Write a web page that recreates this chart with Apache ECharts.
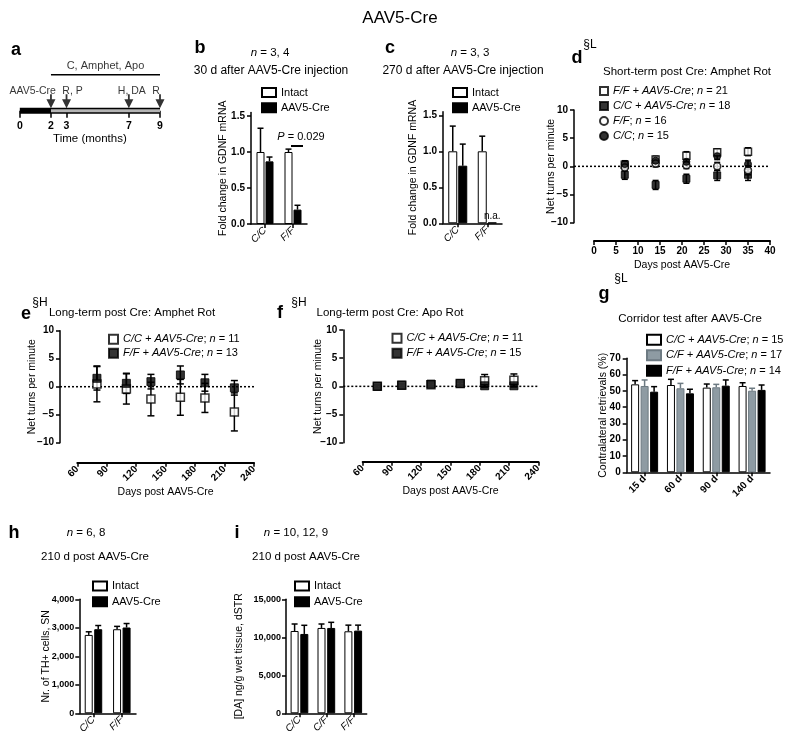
<!DOCTYPE html>
<html><head><meta charset="utf-8">
<script src="https://cdn.jsdelivr.net/npm/echarts@6/dist/echarts.min.js"></script>
<style>html,body{margin:0;padding:0;background:#fff}#c{width:800px;height:745px}</style>
</head><body><div id="c"></div>
<script>
// ---------------- DATA ----------------
// a: timeline (months)
const timelineTicks = [0, 2, 3, 7, 9];
const timelineEvents = [2, 3, 7, 9];
const timelineEventLabels = ['AAV5-Cre', 'R, P', 'H, DA', 'R'];
const preSpan = [0, 2];
const postSpan = [2, 9];
const treatmentSpan = [2, 9];
const treatmentLabel = 'C, Amphet, Apo';

// b, c: GDNF mRNA fold change
const gdnfCats = ['C/C', 'F/F'];
const b_intact = [1.0, 1.0];
const b_intactErr = [0.33, 0.04];
const b_cre = [0.87, 0.20];
const b_creErr = [0.06, 0.06];
const c_intact = [1.0, 1.0];
const c_intactErr = [0.35, 0.21];
const c_cre = [0.80, 0.01];
const c_creErr = [0.30, 0];

// d: short-term amphetamine rotation
const d_days = [7, 14, 21, 28, 35];
const d_ffCre = [0.3, 1.2, 1.9, 2.5, 2.6];
const d_ffCreErr = [0.6, 0.6, 0.7, 0.6, 0.7];
const d_ccCre = [-1.5, -3.3, -2.2, -1.6, -1.5];
const d_ccCreErr = [0.8, 0.8, 0.8, 0.9, 1.0];
const d_ff = [-0.2, 0.5, 0.2, 0.0, -0.7];
const d_ffErr = [0.6, 0.6, 0.6, 0.7, 0.8];
const d_cc = [0.4, 1.0, 0.8, 1.8, 0.4];
const d_ccErr = [0.6, 0.6, 0.6, 0.6, 0.7];

// e: long-term amphetamine rotation
const e_days = [80, 110, 135, 165, 190, 220];
const e_ccCre = [0.5, -0.4, -2.2, -1.9, -2.0, -4.5];
const e_ccCreErr = [3.2, 2.7, 3.0, 3.2, 2.6, 3.4];
const e_ffCre = [1.5, 0.6, 0.9, 2.1, 0.7, -0.2];
const e_ffCreErr = [2.1, 1.8, 1.3, 1.6, 1.5, 1.3];

// f: long-term apomorphine rotation
const f_days = [75, 100, 130, 160, 185, 215];
const f_ccCre = [0.0, 0.2, 0.3, 0.5, 1.0, 1.1];
const f_ccCreErr = [0.3, 0.3, 0.3, 0.3, 1.1, 1.1];
const f_ffCre = [0.0, 0.2, 0.4, 0.5, 0.1, 0.1];
const f_ffCreErr = [0.2, 0.2, 0.2, 0.2, 0.2, 0.2];

// g: corridor test
const g_cats = ['15 d', '60 d', '90 d', '140 d'];
const g_cc = [54.0, 53.6, 52.0, 53.0];
const g_ccErr = [2.3, 3.5, 2.2, 2.0];
const g_cf = [53.0, 51.6, 52.2, 50.1];
const g_cfErr = [3.7, 3.0, 1.8, 1.5];
const g_ff = [49.5, 48.5, 53.2, 50.6];
const g_ffErr = [3.1, 2.5, 3.5, 3.0];

// h: TH+ cells
const h_cats = ['C/C', 'F/F'];
const h_intact = [2750, 2950];
const h_intactErr = [110, 100];
const h_cre = [2950, 3010];
const h_creErr = [130, 140];

// i: DA content
const i_cats = ['C/C', 'C/F', 'F/F'];
const i_intact = [10830, 11230, 10790];
const i_intactErr = [920, 520, 810];
const i_cre = [10440, 11230, 10880];
const i_creErr = [1140, 740, 720];

// ---------------- CHART ----------------
const FONT = '"Liberation Sans", Arial, Helvetica, sans-serif';
const BLACK = '#000';
const GRAY = '#8e9ba3';

function merge(a, b) {
  for (const k in b) {
    if (b[k] && typeof b[k] === 'object' && !Array.isArray(b[k]) && a[k] && typeof a[k] === 'object' && !Array.isArray(a[k])) merge(a[k], b[k]);
    else a[k] = b[k];
  }
  return a;
}
const minus = v => String(v).replace('-', '\u2212');
const thousands = v => v.toLocaleString('en-US');

function baseAxis(gi, extra) {
  return merge({
    gridIndex: gi,
    axisLine: { show: true, onZero: false, lineStyle: { color: BLACK, width: 1.5 } },
    axisTick: { show: true, inside: false, length: 4, lineStyle: { color: BLACK, width: 1.5 } },
    axisLabel: { fontFamily: FONT, fontSize: 10, fontWeight: 'bold', color: BLACK, margin: 6 },
    splitLine: { show: false },
    nameLocation: 'middle',
    nameMoveOverlap: false,
    nameTextStyle: { fontFamily: FONT, fontSize: 10.5, color: BLACK }
  }, extra);
}
function catX(gi, cats, extra) {
  return baseAxis(gi, merge({
    type: 'category', data: cats,
    axisTick: { alignWithLabel: true },
    axisLabel: { rotate: 45, fontStyle: 'italic', fontWeight: 'normal', interval: 0, margin: 5 }
  }, extra || {}));
}

function errSeries(gi, data, offset, capHalf, both, color) {
  return {
    type: 'custom', xAxisIndex: gi, yAxisIndex: gi, z: 4, silent: true,
    renderItem: function (params, api) {
      const e = api.value(2);
      if (!e) return null;
      const x = api.value(0), m = api.value(1);
      const top = api.coord([x, m + e]);
      const bot = api.coord([x, both ? m - e : m]);
      const cx = top[0] + offset;
      const st = { stroke: color, lineWidth: 1.5 };
      const ch = [
        { type: 'line', shape: { x1: cx, y1: bot[1], x2: cx, y2: top[1] }, style: st },
        { type: 'line', shape: { x1: cx - capHalf, y1: top[1], x2: cx + capHalf, y2: top[1] }, style: st }
      ];
      if (both) ch.push({ type: 'line', shape: { x1: cx - capHalf, y1: bot[1], x2: cx + capHalf, y2: bot[1] }, style: st });
      return { type: 'group', children: ch };
    },
    data: data
  };
}
const catErrData = (means, errs) => means.map((m, i) => [i, m, errs[i]]);
const ptData = (xs, means) => xs.map((x, i) => [x, means[i]]);
const ptErrData = (xs, means, errs) => xs.map((x, i) => [x, means[i], errs[i]]);

function barGroup(gi, names, valuesList, errList, styles, barW, gapPx) {
  const n = names.length;
  const out = [];
  const errs = [];
  names.forEach((nm, k) => {
    const vals = valuesList[k];
    out.push({
      type: 'bar', name: nm, xAxisIndex: gi, yAxisIndex: gi,
      barWidth: barW, barGap: (gapPx / barW * 100) + '%',
      itemStyle: styles[k], data: vals, z: 2, silent: true
    });
    const off = (k - (n - 1) / 2) * (barW + gapPx);
    errs.push(errSeries(gi, catErrData(vals.map(v => (typeof v === 'object' ? v.value : v)), errList[k]), off, 3, false, styles[k].errColor || BLACK));
  });
  return out.concat(errs);
}
const whiteBar = { color: '#fff', borderColor: BLACK, borderWidth: 1 };
const blackBar = { color: BLACK, borderColor: BLACK, borderWidth: 1 };
const grayBar = { color: GRAY, borderColor: '#6d7a82', borderWidth: 1, errColor: '#6d7a82' };

const openSq = { symbol: 'rect', itemStyle: { color: '#fff', borderColor: BLACK, borderWidth: 1.5 } };
const fillSq = { symbol: 'rect', itemStyle: { color: BLACK, borderColor: BLACK, borderWidth: 1 } };
const openCi = { symbol: 'circle', itemStyle: { color: '#fff', borderColor: BLACK, borderWidth: 1.5 } };
const fillCi = { symbol: 'circle', itemStyle: { color: BLACK, borderColor: BLACK, borderWidth: 1 } };
function scatter(gi, name, xs, ys, style, size) {
  return merge({ type: 'scatter', name: name, xAxisIndex: gi, yAxisIndex: gi, symbolSize: size, z: 5, silent: true, data: ptData(xs, ys) }, JSON.parse(JSON.stringify(style)));
}
// dotted reference line at y = 0, running from the (offset) y-axis line to the x-axis max
function zeroLine(gi, xmax, yOffset) {
  return {
    type: 'custom', xAxisIndex: gi, yAxisIndex: gi, z: 1, silent: true,
    renderItem: function (params, api) {
      const end = api.coord([xmax, 0]);
      const x0 = params.coordSys.x - yOffset;
      return { type: 'line', shape: { x1: x0, y1: end[1], x2: end[0], y2: end[1] },
        style: { stroke: BLACK, lineWidth: 1.5, lineDash: [2, 2] } };
    },
    data: [[xmax, 0]]
  };
}

const italicName = s => s.replace(/^([^;]+);/, '{i|$1};').replace(/n = /, '{i|n} = ');
const legendRich = { i: { fontStyle: 'italic', fontFamily: FONT, fontSize: 11, color: BLACK } };
function legend(left, top, names, extra) {
  return merge({
    left: left, top: top, orient: 'vertical', data: names, selectedMode: false, padding: 0,
    itemWidth: 14, itemHeight: 9, itemGap: 4,
    textStyle: { fontFamily: FONT, fontSize: 11, color: BLACK, rich: legendRich }
  }, extra || {});
}

// geometry of the panels (pixel layout)
const G = {
  a: { left: 19.8, top: 70.7, width: 140.2, height: 40 },
  b: { left: 251, top: 112.4, width: 56, height: 111.6 },
  c: { left: 443, top: 111.7, width: 59, height: 111.6 },
  d: { left: 594, top: 110, width: 176, height: 112.7 },
  e: { left: 77.3, top: 330.7, width: 176.7, height: 112 },
  f: { left: 362.7, top: 330, width: 175.6, height: 112.7 },
  g: { left: 626.7, top: 358.3, width: 143.3, height: 114 },
  h: { left: 79.3, top: 599.3, width: 56.7, height: 114 },
  i: { left: 286, top: 599.3, width: 80.7, height: 114 }
};
const grids = ['a','b','c','d','e','f','g','h','i'].map(k => Object.assign({ outerBoundsMode: 'none', containLabel: false }, G[k]));

const xAxes = [
  baseAxis(0, { type: 'value', min: 0, max: 9, axisLine: { show: false },
    axisTick: { customValues: timelineTicks, length: 7 },
    axisLabel: { customValues: timelineTicks, fontSize: 10.5, margin: 10 },
    name: 'Time (months)', nameGap: 22, nameTextStyle: { fontSize: 11.5 } }),
  catX(1, gdnfCats),
  catX(2, gdnfCats),
  baseAxis(3, { type: 'value', min: 0, max: 40, interval: 5, offset: 18.3, axisLine: { lineStyle: { width: 2 } },
    axisLabel: { margin: 5 }, name: 'Days post AAV5-Cre', nameGap: 19 }),
  baseAxis(4, { type: 'value', min: 60, max: 240, interval: 30, offset: 20, axisLine: { lineStyle: { width: 2 } },
    axisLabel: { rotate: 45, margin: 5 }, name: 'Days post AAV5-Cre', nameGap: 24 }),
  baseAxis(5, { type: 'value', min: 60, max: 240, interval: 30, offset: 19, axisLine: { lineStyle: { width: 2 } },
    axisLabel: { rotate: 45, margin: 5 }, name: 'Days post AAV5-Cre', nameGap: 24 }),
  catX(6, g_cats, { axisLabel: { fontStyle: 'normal', fontWeight: 'bold' } }),
  catX(7, h_cats),
  catX(8, i_cats)
];
const gdnfTicks = [0, 0.5, 1, 1.5];
const yAxes = [
  { gridIndex: 0, type: 'value', min: 0, max: 4, show: false },
  baseAxis(1, { type: 'value', min: 0, max: 1.55, axisTick: { customValues: gdnfTicks },
    axisLabel: { customValues: gdnfTicks, formatter: v => v.toFixed(1) }, name: 'Fold change in GDNF mRNA', nameGap: 22 }),
  baseAxis(2, { type: 'value', min: 0, max: 1.55, axisTick: { customValues: gdnfTicks },
    axisLabel: { customValues: gdnfTicks, formatter: v => v.toFixed(1) }, name: 'Fold change in GDNF mRNA', nameGap: 24 }),
  baseAxis(3, { type: 'value', min: -10, max: 10, interval: 5, offset: 20, axisLabel: { formatter: minus }, name: 'Net turns per minute', nameGap: 17 }),
  baseAxis(4, { type: 'value', min: -10, max: 10, interval: 5, offset: 17.3, axisLabel: { formatter: minus }, name: 'Net turns per minute', nameGap: 22 }),
  baseAxis(5, { type: 'value', min: -10, max: 10, interval: 5, offset: 19.4, axisLabel: { formatter: minus }, name: 'Net turns per minute', nameGap: 20 }),
  baseAxis(6, { type: 'value', min: 0, max: 70, interval: 10, name: 'Contralateral retrievals (%)', nameGap: 18 }),
  baseAxis(7, { type: 'value', min: 0, max: 4000, interval: 1000, axisLabel: { formatter: thousands, fontSize: 9, margin: 5 }, name: 'Nr. of TH+ cells, SN', nameGap: 28 }),
  baseAxis(8, { type: 'value', min: 0, max: 15000, interval: 5000, axisLabel: { formatter: thousands, fontSize: 9, margin: 5 }, name: '[DA] ng/g wet tissue, dSTR', nameGap: 41 })
];

// panel a series
const arrowPath = 'path://M4,0 L6,0 L6,5 L10,5 L5,14 L0,5 L4,5 Z';
const arrowLabelShift = [{ align: 'right', offset: [5, 0] }, { offset: [6, 0] }, { offset: [3, 0] }, { offset: [-4, 0] }];
const seriesA = [
  { type: 'line', xAxisIndex: 0, yAxisIndex: 0, data: [[preSpan[0], 0], [postSpan[1], 0]], symbol: 'none', clip: false, silent: true,
    lineStyle: { color: BLACK, width: 6 } },
  { type: 'line', xAxisIndex: 0, yAxisIndex: 0, data: [[postSpan[0], 0], [postSpan[1], 0]], symbol: 'none', clip: false, silent: true,
    lineStyle: { color: '#b4b4b4', width: 3 } },
  { type: 'line', xAxisIndex: 0, yAxisIndex: 0, data: [[treatmentSpan[0], 3.6], [treatmentSpan[1], 3.6]], symbol: 'none', clip: false, silent: true,
    lineStyle: { color: BLACK, width: 1.5 } },
  { type: 'scatter', xAxisIndex: 0, yAxisIndex: 0, symbolSize: 0, silent: true,
    data: [[(treatmentSpan[0] + treatmentSpan[1]) / 2, 3.6]],
    label: { show: true, position: 'top', distance: 3, formatter: treatmentLabel, fontFamily: FONT, fontSize: 11, color: BLACK } },
  { type: 'scatter', xAxisIndex: 0, yAxisIndex: 0, symbol: arrowPath, symbolSize: [9, 14], silent: true, z: 5,
    itemStyle: { color: BLACK },
    data: timelineEvents.map((x, k) => ({ value: [x, 0.95], label: merge({ formatter: timelineEventLabels[k] }, arrowLabelShift[k]) })),
    label: { show: true, position: 'top', distance: -2, fontFamily: FONT, fontSize: 10.5, color: BLACK } }
];

const seriesB = barGroup(1, ['Intact', 'AAV5-Cre'], [b_intact, b_cre], [b_intactErr, b_creErr], [whiteBar, blackBar], 8, 1);
const cCreData = c_cre.map((v, k) => k === 1 ? { value: v, label: { show: true, position: 'top', distance: 1, formatter: 'n.a.', fontFamily: FONT, fontSize: 10, color: BLACK } } : v);
const seriesC = barGroup(2, ['Intact', 'AAV5-Cre'], [c_intact, cCreData], [c_intactErr, c_creErr], [whiteBar, blackBar], 9, 1);

const dNames = ['F/F + AAV5-Cre; n = 21', 'C/C + AAV5-Cre; n = 18', 'F/F; n = 16', 'C/C; n = 15'];
const seriesD = [
  zeroLine(3, 40, 20),
  errSeries(3, ptErrData(d_days, d_ffCre, d_ffCreErr), 0, 3, true, BLACK),
  errSeries(3, ptErrData(d_days, d_ccCre, d_ccCreErr), 0, 3, true, BLACK),
  errSeries(3, ptErrData(d_days, d_ff, d_ffErr), 0, 3, true, BLACK),
  errSeries(3, ptErrData(d_days, d_cc, d_ccErr), 0, 3, true, BLACK),
  scatter(3, dNames[0], d_days, d_ffCre, openSq, 7),
  scatter(3, dNames[1], d_days, d_ccCre, fillSq, 7),
  scatter(3, dNames[2], d_days, d_ff, openCi, 7),
  scatter(3, dNames[3], d_days, d_cc, fillCi, 7)
];
const eNames = ['C/C + AAV5-Cre; n = 11', 'F/F + AAV5-Cre; n = 13'];
const seriesE = [
  zeroLine(4, 240, 17.3),
  errSeries(4, ptErrData(e_days, e_ccCre, e_ccCreErr), 0, 3.5, true, BLACK),
  errSeries(4, ptErrData(e_days, e_ffCre, e_ffCreErr), 0, 3.5, true, BLACK),
  scatter(4, eNames[0], e_days, e_ccCre, openSq, 8),
  scatter(4, eNames[1], e_days, e_ffCre, fillSq, 8)
];
const fNames = ['C/C + AAV5-Cre; n = 11', 'F/F + AAV5-Cre; n = 15'];
const seriesF = [
  zeroLine(5, 240, 19.4),
  errSeries(5, ptErrData(f_days, f_ccCre, f_ccCreErr), 0, 3.5, true, BLACK),
  errSeries(5, ptErrData(f_days, f_ffCre, f_ffCreErr), 0, 3.5, true, BLACK),
  scatter(5, fNames[0], f_days, f_ccCre, openSq, 8),
  scatter(5, fNames[1], f_days, f_ffCre, fillSq, 8)
];
const gNames = ['C/C + AAV5-Cre; n = 15', 'C/F + AAV5-Cre; n = 17', 'F/F + AAV5-Cre; n = 14'];
const seriesG = barGroup(6, gNames, [g_cc, g_cf, g_ff], [g_ccErr, g_cfErr, g_ffErr], [whiteBar, grayBar, blackBar], 8, 1.5);
const seriesH = barGroup(7, ['Intact', 'AAV5-Cre'], [h_intact, h_cre], [h_intactErr, h_creErr], [whiteBar, blackBar], 8, 1.5);
const seriesI = barGroup(8, ['Intact', 'AAV5-Cre'], [i_intact, i_cre], [i_intactErr, i_creErr], [whiteBar, blackBar], 8, 1.7);

// text annotations
function txt(x, y, text, size, extra) {
  return { type: 'text', x: x, y: y, silent: true, style: merge({ text: text, fontFamily: FONT, fontSize: size, fill: BLACK, align: 'center', verticalAlign: 'middle',
    rich: { i: { fontStyle: 'italic', fontFamily: FONT, fontSize: size, fill: BLACK } } }, extra || {}) };
}
const bold = { fontWeight: 'bold' };
const graphics = [
  txt(400, 18, 'AAV5-Cre', 17),
  txt(16, 50, 'a', 18, bold),
  txt(200, 48, 'b', 18, bold),
  txt(270, 53, '{i|n} = 3, 4', 11.5),
  txt(271, 71, '30 d after AAV5-Cre injection', 12),
  txt(301, 137, '{i|P} = 0.029', 11),
  { type: 'line', silent: true, shape: { x1: 291, y1: 146, x2: 303, y2: 146 }, style: { stroke: BLACK, lineWidth: 2 } },
  txt(390, 48, 'c', 18, bold),
  txt(470, 53, '{i|n} = 3, 3', 11.5),
  txt(463, 71, '270 d after AAV5-Cre injection', 12),
  txt(577, 58, 'd', 18, bold),
  txt(590, 45, '§L', 12),
  txt(687, 72, 'Short-term post Cre: Amphet Rot', 11.5),
  txt(26, 314, 'e', 18, bold),
  txt(40, 303, '§H', 12),
  txt(132, 313, 'Long-term post Cre: Amphet Rot', 11.5),
  txt(280, 313, 'f', 18, bold),
  txt(299, 303, '§H', 12),
  txt(390, 313, 'Long-term post Cre: Apo Rot', 11.5),
  txt(604, 294, 'g', 18, bold),
  txt(621, 279, '§L', 12),
  txt(690, 319, 'Corridor test after AAV5-Cre', 11.5),
  txt(14, 533, 'h', 18, bold),
  txt(86, 533, '{i|n} = 6, 8', 11.5),
  txt(95, 557, '210 d post AAV5-Cre', 11.5),
  txt(237, 533, 'i', 18, bold),
  txt(296, 533, '{i|n} = 10, 12, 9', 11.5),
  txt(306, 557, '210 d post AAV5-Cre', 11.5)
];

const option = {
  animation: false,
  backgroundColor: '#fff',
  textStyle: { fontFamily: FONT, color: BLACK },
  grid: grids,
  xAxis: xAxes,
  yAxis: yAxes,
  legend: [
    legend(261, 87, ['Intact', 'AAV5-Cre'], { icon: 'rect', itemGap: 4.3 }),
    legend(452, 87, ['Intact', 'AAV5-Cre'], { icon: 'rect', itemGap: 4.3 }),
    legend(599, 85.5, dNames, { itemWidth: 8, itemHeight: 8, itemGap: 4, formatter: italicName }),
    legend(108, 333.8, eNames, { itemWidth: 9, itemHeight: 9, itemGap: 3, formatter: italicName }),
    legend(391.5, 332.8, fNames, { itemWidth: 9, itemHeight: 9, itemGap: 4, formatter: italicName }),
    legend(646, 333.8, gNames, { icon: 'rect', itemWidth: 14, itemHeight: 10, itemGap: 3.5, formatter: italicName }),
    legend(92, 580.5, ['Intact', 'AAV5-Cre'], { icon: 'rect', itemGap: 4.7 }),
    legend(294, 580.5, ['Intact', 'AAV5-Cre'], { icon: 'rect', itemGap: 4.7 })
  ],
  series: [].concat(seriesA, seriesB, seriesC, seriesD, seriesE, seriesF, seriesG, seriesH, seriesI),
  graphic: graphics
};

const chart = echarts.init(document.getElementById('c'));
chart.setOption(option);
</script>
</body></html>
